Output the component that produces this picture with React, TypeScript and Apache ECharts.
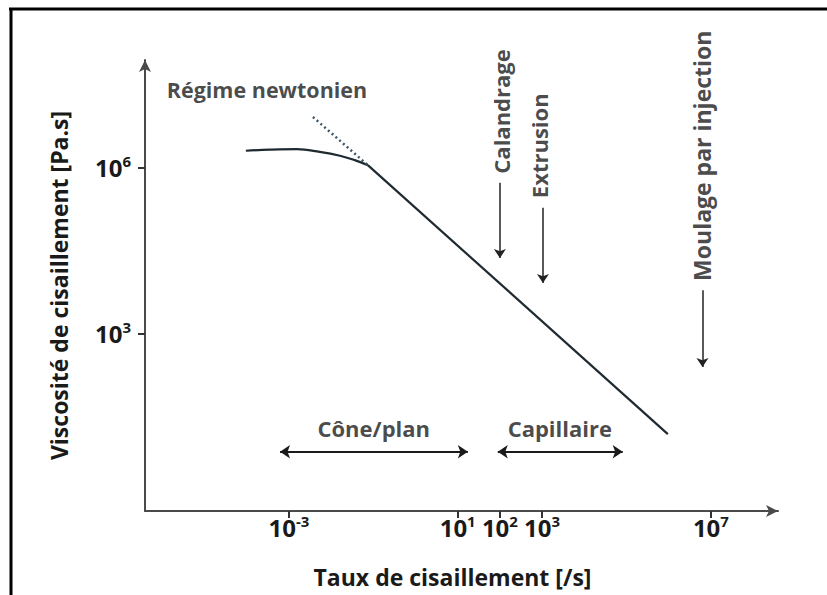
import React, { useEffect, useRef } from "react";
import * as echarts from "echarts";

// log10 of shear rate [/s] and log10 of viscosity [Pa.s]
const curveX = [-4.02, -3.45, -2.81, -2.27, -1.79, -1.44, -1.13];
const curveY = [6.31, 6.33, 6.34, 6.29, 6.22, 6.14, 6.05];
const powerLawX = [-1.13, 5.98];
const powerLawY = [6.05, 1.19];
const newtonExtX = [-2.43, -1.13];
const newtonExtY = [6.92, 6.05];

const xTicks = [-3, 1, 2, 3, 7];
const yTicks = [3, 6];

// process markers: [name, x, yStart, yEnd, labelX, labelY]
const processes: [string, number, number, number, number, number][] = [
  ["Calandrage", 2.0, 5.73, 4.37, 2.02, 7.02],
  ["Extrusion", 3.02, 5.28, 3.92, 2.93, 6.4],
  ["Moulage par injection", 6.8, 3.79, 2.4, 6.8, 6.22],
];

// measurement ranges: [name, xStart, xEnd, y, labelX, labelY]
const ranges: [string, number, number, number, number, number][] = [
  ["Cône/plan", -3.21, 1.24, 0.87, -0.99, 1.3],
  ["Capillaire", 1.95, 4.91, 0.87, 3.42, 1.3],
];

const newtonLabel: [string, number, number] = ["Régime newtonien", -3.52, 7.41];

const FONT = "'Open Sans', sans-serif";
const TXT = "#1a1a1a";
const LINE = "#1f2a30";

export default function App() {
  const ref = useRef<HTMLDivElement>(null);
  useEffect(() => {
    if (!ref.current) return;
    const chart = echarts.init(ref.current, undefined, { renderer: "svg" });
    const supLabel = (v: number) => `{b|10}{s|${v}}`;
    const rich = {
      b: { fontSize: 24, fontWeight: "bold", fontFamily: FONT, color: TXT, lineHeight: 28 },
      s: { fontSize: 15, fontWeight: "bold", fontFamily: FONT, color: TXT, verticalAlign: "top", lineHeight: 15 },
    };
    const textItems: any[] = [];
    processes.forEach((p, i) =>
      textItems.push({
        value: [p[4], p[5]],
        name: p[0],
        label: i === 2 ? { rotate: 90, fontSize: 23 } : { rotate: 90 },
      })
    );
    ranges.forEach((r) => textItems.push({ value: [r[4], r[5]], name: r[0] }));
    textItems.push({ value: [newtonLabel[1], newtonLabel[2]], name: newtonLabel[0], label: { fontSize: 21.5 } });

    chart.setOption({
      animation: false,
      grid: { left: 145, right: 49, top: 60, bottom: 84, containLabel: false },
      xAxis: {
        type: "value",
        min: -6.41,
        max: 8.59,
        splitLine: { show: false },
        axisLine: {
          show: true,
          onZero: false,
          symbol: ["none", "arrow"],
          symbolSize: [9, 12],
          lineStyle: { color: "#4a4a4a", width: 2 },
        },
        axisTick: { show: true, customValues: xTicks, length: 7, lineStyle: { color: "#333", width: 2 } },
        axisLabel: { customValues: xTicks, formatter: supLabel, rich, margin: 2 },
        name: "Taux de cisaillement [/s]",
        nameLocation: "middle",
        nameGap: 54,
        nameTextStyle: { fontSize: 23, fontWeight: "bold", fontFamily: FONT, color: TXT, padding: [0, 18, 0, 0] },
      },
      yAxis: {
        type: "value",
        min: -0.2,
        max: 7.95,
        splitLine: { show: false },
        axisLine: {
          show: true,
          onZero: false,
          symbol: ["none", "arrow"],
          symbolSize: [9, 12],
          lineStyle: { color: "#4a4a4a", width: 2 },
        },
        axisTick: { show: true, customValues: yTicks, length: 7, lineStyle: { color: "#333", width: 2 } },
        axisLabel: { customValues: yTicks, formatter: supLabel, rich, margin: 14 },
        name: "Viscosité de cisaillement [Pa.s]",
        nameLocation: "middle",
        nameGap: 75,
        nameTextStyle: { fontSize: 23, fontWeight: "bold", fontFamily: FONT, color: TXT },
      },
      graphic: [
        { type: "line", shape: { x1: 9, y1: 9, x2: 827, y2: 9 }, style: { stroke: "#000", lineWidth: 3 } },
        { type: "line", shape: { x1: 11, y1: 9, x2: 11, y2: 595 }, style: { stroke: "#000", lineWidth: 3 } },
      ],
      series: [
        {
          type: "line",
          data: curveX.map((x, i) => [x, curveY[i]]),
          smooth: 0.4,
          showSymbol: false,
          lineStyle: { color: LINE, width: 2.2 },
        },
        {
          type: "line",
          data: powerLawX.map((x, i) => [x, powerLawY[i]]),
          showSymbol: false,
          lineStyle: { color: LINE, width: 2.2 },
        },
        {
          type: "line",
          data: newtonExtX.map((x, i) => [x, newtonExtY[i]]),
          showSymbol: false,
          lineStyle: { color: "#3d5666", width: 2.5, type: [2, 3] },
        },
        {
          type: "lines",
          coordinateSystem: "cartesian2d",
          symbol: ["none", "arrow"],
          symbolSize: 9,
          lineStyle: { color: "#222", width: 1.5, opacity: 1 },
          data: processes.map((p) => ({ coords: [[p[1], p[2]], [p[1], p[3]]] })),
        },
        {
          type: "lines",
          coordinateSystem: "cartesian2d",
          symbol: ["arrow", "arrow"],
          symbolSize: 10,
          lineStyle: { color: "#1a1a1a", width: 2, opacity: 1 },
          data: ranges.map((r) => ({ coords: [[r[1], r[3]], [r[2], r[3]]] })),
        },
        {
          type: "scatter",
          symbolSize: 0,
          silent: true,
          data: textItems,
          label: {
            show: true,
            position: "inside",
            formatter: (p: any) => p.name,
            fontSize: 22,
            fontWeight: "bold",
            fontFamily: FONT,
            color: TXT,
          },
        },
      ],
    });
    return () => chart.dispose();
  }, []);
  return (
    <div
      ref={ref}
      style={{ position: "absolute", left: 0, top: 0, width: 827, height: 595, background: "#fff" }}
    />
  );
}
